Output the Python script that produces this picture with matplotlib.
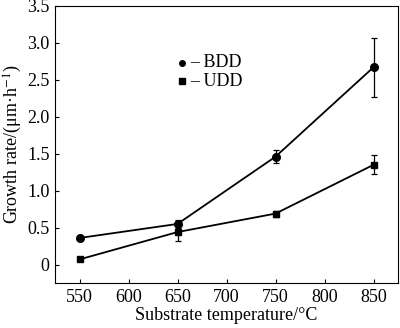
import matplotlib.pyplot as plt

temps = [550, 650, 750, 850]
bdd = [0.36, 0.55, 1.46, 2.67]
bdd_err = [0.0, 0.06, 0.09, 0.40]
udd = [0.07, 0.44, 0.69, 1.35]
udd_err = [0.0, 0.12, 0.04, 0.13]
xticks = [550, 600, 650, 700, 750, 800, 850]
yticks = [0, 0.5, 1.0, 1.5, 2.0, 2.5, 3.0, 3.5]
ylabels = ['0', '0.5', '1.0', '1.5', '2.0', '2.5', '3.0', '3.5']

plt.rcParams['font.family'] = ['Liberation Serif', 'DejaVu Serif']
plt.rcParams['mathtext.fontset'] = 'stix'

fig = plt.figure(figsize=(4, 3.28), dpi=100)
ax = fig.add_axes([0.1375, 0.137, 0.8575, 0.845])

ax.errorbar(temps, bdd, yerr=bdd_err, color='black', marker='o', ms=5.5,
            lw=1.3, capsize=2.5, elinewidth=0.9, capthick=0.9)
ax.errorbar(temps, udd, yerr=udd_err, color='black', marker='s', ms=5,
            lw=1.3, capsize=2.5, elinewidth=0.9, capthick=0.9)

# legend drawn by hand: marker, dash, name
ax.plot([0.369], [0.795], 'ko', ms=4, transform=ax.transAxes)
ax.text(0.395, 0.795, '\u2013 BDD', transform=ax.transAxes, va='center', fontsize=13)
ax.plot([0.369], [0.729], 'ks', ms=4, transform=ax.transAxes)
ax.text(0.395, 0.729, '\u2013 UDD', transform=ax.transAxes, va='center', fontsize=13)

ax.set_xlim(525, 875)
ax.set_ylim(-0.25, 3.5)
ax.set_xticks(xticks)
ax.set_yticks(yticks)
ax.set_yticklabels(ylabels)
ax.tick_params(direction='in', length=3, labelsize=13, pad=4)
ax.set_xlabel('Substrate temperature/\u00b0C', fontsize=13, labelpad=1)
ax.set_ylabel('Growth rate/(\u03bcm\u00b7h$^{-1}$)', fontsize=13, labelpad=2)

fig.savefig('out.png', dpi=100)
